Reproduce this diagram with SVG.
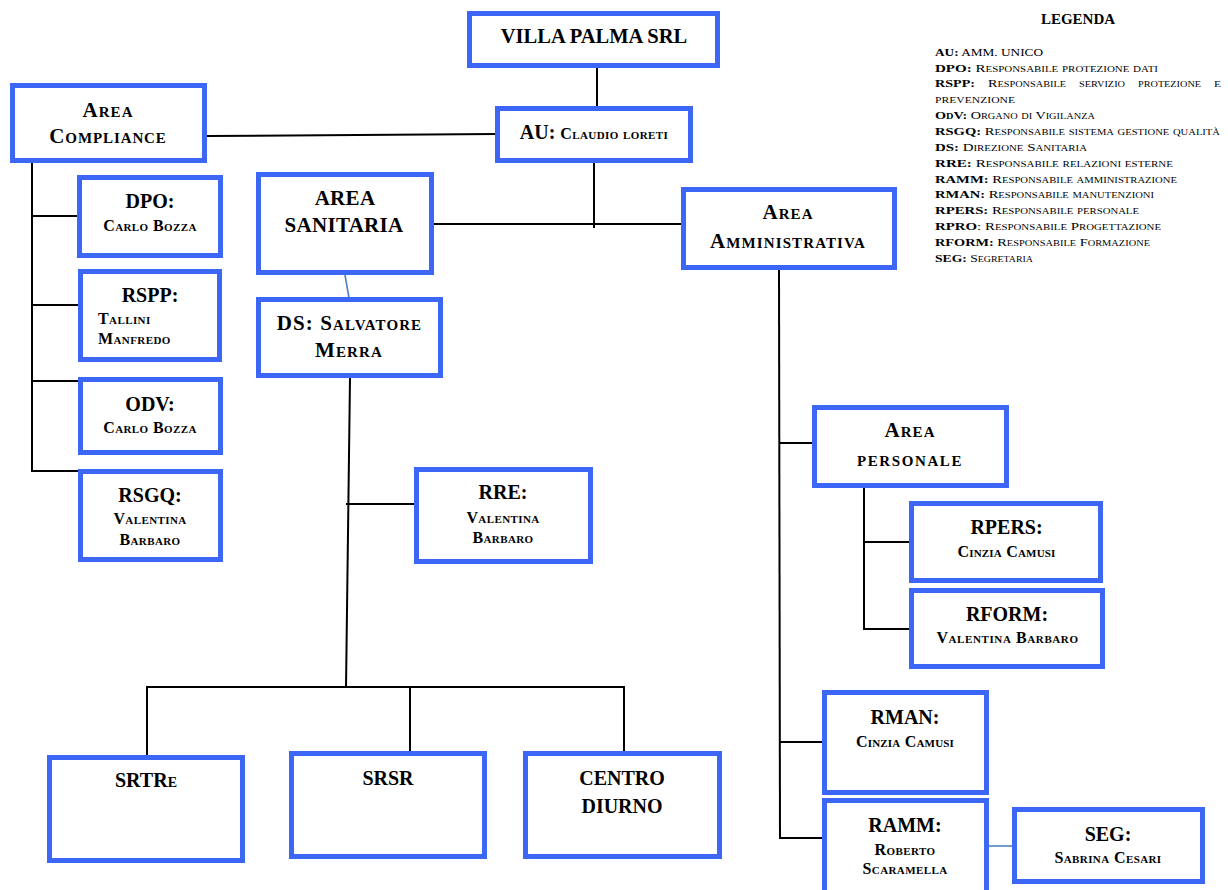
<svg xmlns="http://www.w3.org/2000/svg" width="1228" height="890" viewBox="0 0 1228 890">
<style>
  .box{fill:#fff;stroke:#3b66f6;stroke-width:5}
  .ln{stroke:#000;stroke-width:2;fill:none}
  .bl{stroke:#4f81bd;stroke-width:1.6;fill:none}
  text{font-family:"Liberation Serif","Times New Roman",serif;font-weight:bold;fill:#000}
  .t{font-size:20px;text-anchor:middle}
  .n{font-size:16px;font-variant:small-caps;letter-spacing:0.4px;text-anchor:middle}
  .a{font-size:21px;font-variant:small-caps;letter-spacing:1.1px;text-anchor:middle}
  .c{font-size:21px;letter-spacing:0.3px;text-anchor:middle}
  .lg{font-size:11px;font-variant:small-caps;font-weight:normal}
  .b{font-weight:bold}
</style>
<rect width="1228" height="890" fill="#fff"/>
<g id="connectors">
  <line class="ln" x1="597" y1="67" x2="597" y2="106"/>
  <line class="ln" x1="207" y1="136" x2="496" y2="134"/>
  <line class="ln" x1="594" y1="163" x2="594" y2="228"/>
  <line class="ln" x1="434" y1="224" x2="682" y2="224"/>
  <line class="ln" x1="32" y1="163" x2="32" y2="471"/>
  <line class="ln" x1="31" y1="216" x2="79" y2="216"/>
  <line class="ln" x1="31" y1="305" x2="79" y2="305"/>
  <line class="ln" x1="31" y1="381" x2="79" y2="381"/>
  <line class="ln" x1="31" y1="471" x2="79" y2="471"/>
  <line class="bl" x1="345" y1="275" x2="349" y2="298"/>
  <line class="ln" x1="350" y1="378" x2="346" y2="688"/>
  <line class="ln" x1="346" y1="504" x2="415" y2="504"/>
  <line class="ln" x1="146" y1="687" x2="625" y2="687"/>
  <line class="ln" x1="147" y1="686" x2="147" y2="757"/>
  <line class="ln" x1="410" y1="687" x2="410" y2="752"/>
  <line class="ln" x1="624" y1="686" x2="624" y2="751"/>
  <line class="ln" x1="779" y1="270" x2="780" y2="839"/>
  <line class="ln" x1="779" y1="443" x2="813" y2="443"/>
  <line class="ln" x1="779" y1="742" x2="823" y2="742"/>
  <line class="ln" x1="779" y1="838" x2="823" y2="838"/>
  <line class="ln" x1="864" y1="488" x2="864" y2="630"/>
  <line class="ln" x1="863" y1="542" x2="910" y2="542"/>
  <line class="ln" x1="863" y1="629" x2="910" y2="629"/>
  <line class="bl" x1="989" y1="846" x2="1013" y2="846"/>
</g>
<g id="villa-palma"><rect class="box" x="469.5" y="13.5" width="248" height="52"/><text class="t" x="594" y="43" style="font-size:20.5px">VILLA PALMA SRL</text></g>
<g id="au"><rect class="box" x="497.5" y="108.5" width="193" height="52"/><text class="t" x="594" y="139">AU: <tspan style="font-size:16px;font-variant:small-caps;letter-spacing:0.4px">Claudio loreti</tspan></text></g>
<g id="area-compliance"><rect class="box" x="12.5" y="85.5" width="192" height="75"/><text class="a" x="108" y="117">Area</text><text class="a" x="108" y="143" style="letter-spacing:0.9px">Compliance</text></g>
<g id="dpo"><rect class="box" x="79.5" y="177.5" width="141" height="78"/><text class="t" x="150" y="208">DPO:</text><text class="n" x="150" y="231">Carlo Bozza</text></g>
<g id="rspp"><rect class="box" x="80.5" y="271.5" width="139" height="88"/><text class="t" x="150" y="302">RSPP:</text><text class="n" x="98" y="324" style="text-anchor:start">Tallini</text><text class="n" x="98" y="344" style="text-anchor:start">Manfredo</text></g>
<g id="odv"><rect class="box" x="80.5" y="379.5" width="140" height="73"/><text class="t" x="150" y="411">ODV:</text><text class="n" x="150" y="433">Carlo Bozza</text></g>
<g id="rsgq"><rect class="box" x="80.5" y="471.5" width="140" height="88"/><text class="t" x="150" y="502">RSGQ:</text><text class="n" x="150" y="524">Valentina</text><text class="n" x="150" y="545">Barbaro</text></g>
<g id="area-sanitaria"><rect class="box" x="258.5" y="174.5" width="173" height="98"/><text class="c" x="345" y="205">AREA</text><text class="c" x="344" y="232">SANITARIA</text></g>
<g id="ds"><rect class="box" x="258.5" y="299.5" width="182" height="76"/><text class="a" x="349.5" y="330">DS: Salvatore</text><text class="a" x="349" y="357">Merra</text></g>
<g id="area-amministrativa"><rect class="box" x="683.5" y="189.5" width="211" height="78"/><text class="a" x="788" y="219">Area</text><text class="a" x="788" y="248">Amministrativa</text></g>
<g id="rre"><rect class="box" x="416.5" y="469.5" width="174" height="92"/><text class="t" x="503" y="499">RRE:</text><text class="n" x="503" y="523">Valentina</text><text class="n" x="503" y="543">Barbaro</text></g>
<g id="area-personale"><rect class="box" x="814.5" y="407.5" width="192" height="78"/><text class="a" x="910" y="437">Area</text><text class="a" x="910" y="466" style="letter-spacing:1.6px">personale</text></g>
<g id="rpers"><rect class="box" x="911.5" y="503.5" width="189" height="77"/><text class="t" x="1006.5" y="534">RPERS:</text><text class="n" x="1006.5" y="557" style="letter-spacing:0.2px">Cinzia Camusi</text></g>
<g id="rform"><rect class="box" x="911.5" y="590.5" width="191" height="76"/><text class="t" x="1007" y="621">RFORM:</text><text class="n" x="1007.5" y="643" style="letter-spacing:0.6px">Valentina Barbaro</text></g>
<g id="rman"><rect class="box" x="824.5" y="692.5" width="162" height="100"/><text class="t" x="905" y="724">RMAN:</text><text class="n" x="905" y="747" style="letter-spacing:0.2px">Cinzia Camusi</text></g>
<g id="ramm"><rect class="box" x="824.5" y="800.5" width="162" height="95"/><text class="t" x="905" y="832">RAMM:</text><text class="n" x="905" y="855">Roberto</text><text class="n" x="905" y="874">Scaramella</text></g>
<g id="seg"><rect class="box" x="1014.5" y="809.5" width="188" height="72"/><text class="t" x="1108" y="841">SEG:</text><text class="n" x="1108" y="863">Sabrina Cesari</text></g>
<g id="srtre"><rect class="box" x="49.5" y="757.5" width="193" height="103"/><text class="t" x="146" y="787" style="font-variant:small-caps">SRTRe</text></g>
<g id="srsr"><rect class="box" x="291.5" y="753.5" width="193" height="103"/><text class="t" x="388" y="785">SRSR</text></g>
<g id="centro-diurno"><rect class="box" x="525.5" y="753.5" width="194" height="103"/><text class="t" x="622" y="785">CENTRO</text><text class="t" x="622" y="813">DIURNO</text></g>
<g id="legenda">
  <text x="1078" y="24" style="font-size:15px;text-anchor:middle">LEGENDA</text>
  <text class="lg" x="935" y="56" textLength="108" lengthAdjust="spacingAndGlyphs"><tspan class="b">AU:</tspan> AMM. UNICO</text>
  <text class="lg" x="935" y="72" textLength="223" lengthAdjust="spacingAndGlyphs"><tspan class="b">DPO:</tspan> Responsabile protezione dati</text>
  <text class="lg b" x="935" y="87" textLength="40" lengthAdjust="spacingAndGlyphs">RSPP:</text>
  <text class="lg" x="988" y="87" textLength="78" lengthAdjust="spacingAndGlyphs">Responsabile</text>
  <text class="lg" x="1079" y="87" textLength="46" lengthAdjust="spacingAndGlyphs">servizio</text>
  <text class="lg" x="1138" y="87" textLength="63" lengthAdjust="spacingAndGlyphs">protezione</text>
  <text class="lg" x="1214" y="87" textLength="7" lengthAdjust="spacingAndGlyphs">e</text>
  <text class="lg" x="935" y="103" textLength="80" lengthAdjust="spacingAndGlyphs">prevenzione</text>
  <text class="lg" x="935" y="119" textLength="160" lengthAdjust="spacingAndGlyphs"><tspan class="b">OdV:</tspan> Organo di Vigilanza</text>
  <text class="lg" x="935" y="135" textLength="285" lengthAdjust="spacingAndGlyphs"><tspan class="b">RSGQ:</tspan> Responsabile sistema gestione qualità</text>
  <text class="lg" x="935" y="151" textLength="152" lengthAdjust="spacingAndGlyphs"><tspan class="b">DS:</tspan> Direzione Sanitaria</text>
  <text class="lg" x="935" y="167" textLength="238" lengthAdjust="spacingAndGlyphs"><tspan class="b">RRE:</tspan> Responsabile relazioni esterne</text>
  <text class="lg" x="935" y="183" textLength="242" lengthAdjust="spacingAndGlyphs"><tspan class="b">RAMM:</tspan> Responsabile amministrazione</text>
  <text class="lg" x="935" y="198" textLength="219" lengthAdjust="spacingAndGlyphs"><tspan class="b">RMAN:</tspan> Responsabile manutenzioni</text>
  <text class="lg" x="935" y="214" textLength="204" lengthAdjust="spacingAndGlyphs"><tspan class="b">RPERS:</tspan> Responsabile personale</text>
  <text class="lg" x="935" y="230" textLength="226" lengthAdjust="spacingAndGlyphs"><tspan class="b">RPRO</tspan>: Responsabile Progettazione</text>
  <text class="lg" x="935" y="246" textLength="215" lengthAdjust="spacingAndGlyphs"><tspan class="b">RFORM:</tspan> Responsabile Formazione</text>
  <text class="lg" x="935" y="262" textLength="98" lengthAdjust="spacingAndGlyphs"><tspan class="b">SEG:</tspan> Segretaria</text>
</g>
</svg>
